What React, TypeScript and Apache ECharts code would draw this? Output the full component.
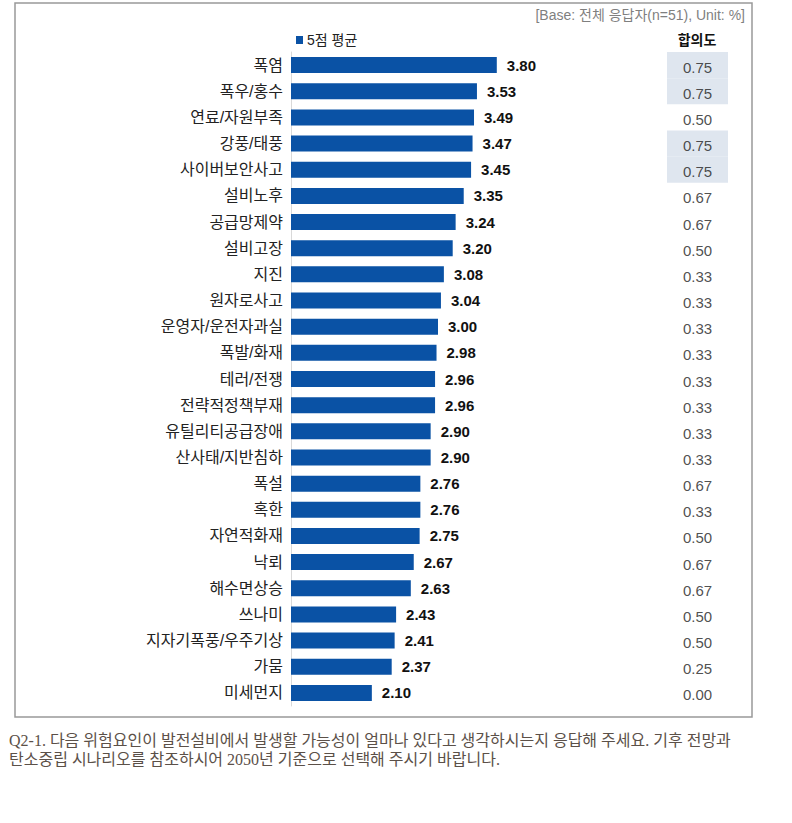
import React, { useEffect, useRef } from "react";
import * as echarts from "echarts";

const categories = [
  "폭염", "폭우/홍수", "연료/자원부족", "강풍/태풍", "사이버보안사고", "설비노후", "공급망제약", "설비고장",
  "지진", "원자로사고", "운영자/운전자과실", "폭발/화재", "테러/전쟁", "전략적정책부재", "유틸리티공급장애",
  "산사태/지반침하", "폭설", "혹한", "자연적화재", "낙뢰", "해수면상승", "쓰나미", "지자기폭풍/우주기상", "가뭄", "미세먼지",
];
const averages = [3.80, 3.53, 3.49, 3.47, 3.45, 3.35, 3.24, 3.20, 3.08, 3.04, 3.00, 2.98, 2.96, 2.96, 2.90, 2.90, 2.76, 2.76, 2.75, 2.67, 2.63, 2.43, 2.41, 2.37, 2.10];
const agreement = ["0.75", "0.75", "0.50", "0.75", "0.75", "0.67", "0.67", "0.50", "0.33", "0.33", "0.33", "0.33", "0.33", "0.33", "0.33", "0.33", "0.67", "0.33", "0.50", "0.67", "0.67", "0.50", "0.50", "0.25", "0.00"];
const highlighted = [true, true, false, true, true, false, false, false, false, false, false, false, false, false, false, false, false, false, false, false, false, false, false, false, false];
const seriesName = "5점 평균";
const agreementTitle = "합의도";
const baseNote = "[Base: 전체 응답자(n=51), Unit: %]";
const footerLines = [
  "Q2-1. 다음 위험요인이 발전설비에서 발생할 가능성이 얼마나 있다고 생각하시는지 응답해 주세요. 기후 전망과",
  "탄소중립 시나리오를 참조하시어 2050년 기준으로 선택해 주시기 바랍니다.",
];

const SANS = "Arial, 'Liberation Sans', 'Noto Sans CJK KR', sans-serif";

export default function App() {
  const ref = useRef<HTMLDivElement>(null);
  useEffect(() => {
    if (!ref.current) return;
    const chart = echarts.init(ref.current, undefined, { renderer: "svg" });
    const gridTop = 52;
    const gridBottom = 823 - 706;
    chart.setOption({
      animation: false,
      backgroundColor: "#ffffff",
      grid: [
        { left: 291, width: 294, top: gridTop, bottom: gridBottom, containLabel: false },
        { left: 667, width: 61, top: gridTop, bottom: gridBottom, containLabel: false },
      ],
      xAxis: [
        { gridIndex: 0, type: "value", min: 1, max: 5, show: false },
        { gridIndex: 1, type: "value", min: 0, max: 1, show: false },
      ],
      yAxis: [
        {
          gridIndex: 0,
          type: "category",
          data: categories,
          inverse: true,
          axisLine: { show: true, lineStyle: { color: "#d9d9d9", width: 1 } },
          axisTick: { show: false },
          axisLabel: { color: "#222222", fontSize: 16, fontFamily: SANS, margin: 8 },
        },
        {
          gridIndex: 1,
          type: "category",
          data: categories,
          inverse: true,
          show: false,
        },
      ],
      series: [
        {
          name: seriesName,
          type: "bar",
          xAxisIndex: 0,
          yAxisIndex: 0,
          data: averages,
          barWidth: 16,
          itemStyle: { color: "#0a52a5" },
          label: {
            show: true,
            position: "right",
            distance: 10,
            formatter: (p: any) => Number(p.value).toFixed(2),
            color: "#111111",
            fontWeight: "bold",
            fontSize: 15,
            fontFamily: SANS,
          },
        },
        {
          type: "bar",
          xAxisIndex: 1,
          yAxisIndex: 1,
          data: highlighted.map((h) => (h ? 1 : "-")),
          barCategoryGap: "0%",
          itemStyle: { color: "#dfe6ef" },
          silent: true,
        },
        {
          type: "scatter",
          xAxisIndex: 1,
          yAxisIndex: 1,
          symbolSize: 0,
          data: agreement.map((a, i) => [0.5, categories[i], a]),
          label: {
            show: true,
            position: "inside",
            formatter: (p: any) => p.value[2],
            color: "#222222",
            fontSize: 15,
            fontFamily: SANS,
            offset: [0, 2],
          },
          silent: true,
        },
      ],
      graphic: [
        {
          type: "rect",
          shape: { x: 15, y: 3, width: 737, height: 714 },
          style: { fill: "none", stroke: "#999999", lineWidth: 1.5 },
          silent: true,
        },
        {
          type: "text",
          x: 745,
          y: 15,
          style: { text: baseNote, fill: "#7f7f7f", fontSize: 14, fontFamily: SANS, align: "right", verticalAlign: "middle" },
        },
        {
          type: "rect",
          shape: { x: 296, y: 36, width: 7, height: 8 },
          style: { fill: "#0a52a5" },
        },
        {
          type: "text",
          x: 307,
          y: 40,
          style: { text: seriesName, fill: "#222222", fontSize: 14, fontFamily: SANS, align: "left", verticalAlign: "middle" },
        },
        {
          type: "text",
          x: 697,
          y: 40,
          style: { text: agreementTitle, fill: "#111111", fontSize: 14, fontWeight: "bold", fontFamily: SANS, align: "center", verticalAlign: "middle" },
        },
        ...footerLines.map((line, i) => ({
          type: "text",
          x: 9,
          y: 740 + i * 19,
          style: {
            text: line,
            fill: "#5b5048",
            fontSize: 16,
            fontFamily: "'Liberation Serif', 'Noto Sans CJK KR', serif",
            align: "left",
            verticalAlign: "middle",
          },
        })),
      ],
    });
    return () => chart.dispose();
  }, []);
  return <div ref={ref} style={{ position: "fixed", left: 0, top: 0, width: 792, height: 823 }} />;
}
